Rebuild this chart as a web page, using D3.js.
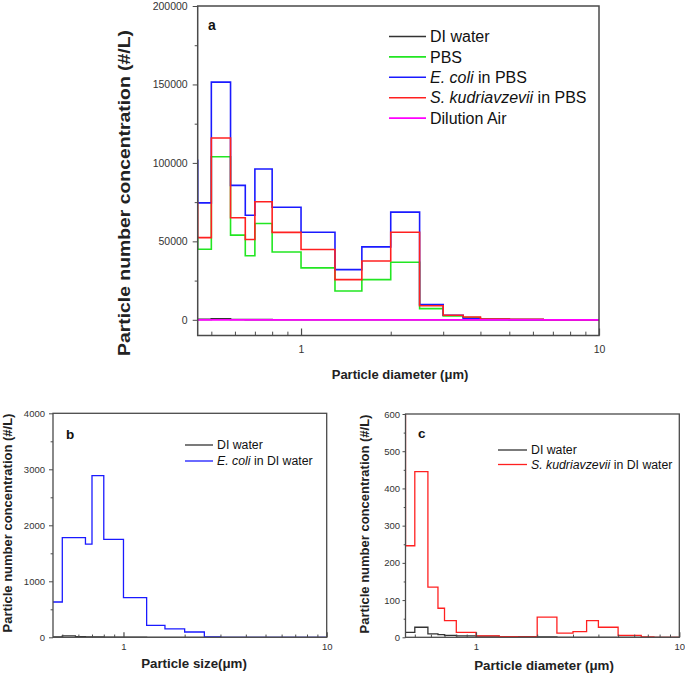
<!DOCTYPE html>
<html>
<head>
<meta charset="utf-8">
<script src="https://cdn.jsdelivr.net/npm/d3@7/dist/d3.min.js"></script>
<style>
  html, body { margin: 0; padding: 0; background: #fff; }
  svg { display: block; font-family: "Liberation Sans", Arial, sans-serif; }
</style>
</head>
<body>
<svg id="chart" width="685" height="674"></svg>
<script>
// ---- DATA ----
// Bin edges (µm) of the optical particle counter channels
const binEdges = [0.4, 0.45, 0.5, 0.58, 0.65, 0.7, 0.8, 1.0, 1.3, 1.6, 2.0, 2.5, 3.0, 3.5, 4.0, 5.0, 6.5, 7.5, 8.5, 10];

// Panel a (#/L)
const aDIWater   = [0, 300, 700, 200, 100, 100, 0, 0, 0, 0, 0, 0, 0, 0, 0, 0, 0, 0, 0];
const aPBS       = [52400, 45000, 103900, 54000, 40800, 61400, 43200, 33100, 18400, 25600, 36700, 7100, 2500, 1500, 500, 100, 0, 0, 0];
const aEcoliPBS  = [101700, 74500, 151500, 85700, 66600, 96100, 71700, 55800, 32000, 46500, 68600, 9700, 2900, 700, 300, 100, 0, 0, 0];
const aSkudPBS   = [74500, 52400, 115900, 65000, 51200, 75200, 55700, 44800, 25600, 37500, 55800, 9000, 2900, 1800, 500, 300, 0, 0, 0];
const aDilution  = [0, 0, 0, 0, 0, 0, 0, 0, 0, 0, 0, 0, 0, 0, 0, 0, 0, 0, 0];

// Panel b (#/L)
const bDIWater   = [0, 5, 25, 10, 8, 5, 3, 2, 0, 0, 0, 0, 0, 0, 0, 0, 0, 0, 0];
const bEcoliDI   = [630, 630, 1780, 1780, 1665, 2886, 1750, 707, 214, 150, 95, 5, 0, 0, 0, 0, 0, 0, 0];

// Panel c (#/L)
const cDIWater   = [13, 13, 27, 9, 7, 5, 4, 3, 1, 2, 1, 0, 0, 0, 0, 0, 0, 0, 0];
const cSkudDI    = [700, 246, 445, 135, 78, 45, 13, 4, 2, 1, 54, 11, 15, 45, 27, 5, 1, 0, 0];

// Axis ticks
const xMajorTicks = [1, 10];
const xMinorTicks = [0.5, 0.6, 0.7, 0.8, 0.9, 2, 3, 4, 5, 6, 7, 8, 9];
const aYTicks = [0, 50000, 100000, 150000, 200000];
const aYMinor = [25000, 75000, 125000, 175000];
const bYTicks = [0, 1000, 2000, 3000, 4000];
const bYMinor = [500, 1500, 2500, 3500];
const cYTicks = [0, 100, 200, 300, 400, 500, 600];
const cYMinor = [50, 150, 250, 350, 450, 550];

// ---- DRAW ----
const svg = d3.select("#chart");
const COL = { black: "#333333", green: "#22e622", blue: "#1a1aff", red: "#ff2020", magenta: "#ff00ff" };

function stepPoints(vals) {
  const pts = vals.map((v, i) => [binEdges[i], v]);
  pts.push([binEdges[binEdges.length - 1], vals[vals.length - 1]]);
  return pts;
}

function panel(cfg) {
  const x = d3.scaleLog().domain([0.45, 10]).range([cfg.x0, cfg.x1]);
  const y = d3.scaleLinear().domain(cfg.yDomain).range([cfg.y1, cfg.y0]);
  const g = svg.append("g");
  const clipId = "clip-" + cfg.id;
  svg.append("defs").append("clipPath").attr("id", clipId)
    .append("rect").attr("x", cfg.x0).attr("y", cfg.y0)
    .attr("width", cfg.x1 - cfg.x0).attr("height", cfg.y1 - cfg.y0);

  // series
  const line = d3.line().x(d => x(d[0])).y(d => y(d[1])).curve(d3.curveStepAfter);
  const sg = g.append("g").attr("clip-path", `url(#${clipId})`);
  cfg.series.forEach(s => {
    sg.append("path").attr("d", line(stepPoints(s.values)))
      .attr("fill", "none").attr("stroke", s.color).attr("stroke-width", s.w || cfg.lw);
  });

  // frame
  g.append("rect").attr("x", cfg.x0).attr("y", cfg.y0)
    .attr("width", cfg.x1 - cfg.x0).attr("height", cfg.y1 - cfg.y0)
    .attr("fill", "none").attr("stroke", "#4a4a4a").attr("stroke-width", cfg.fw);

  // y axis major
  const yAx = g.append("g").attr("transform", `translate(${cfg.x0},0)`)
    .call(d3.axisLeft(y).tickValues(cfg.yTicks).tickSize(cfg.yTick).tickPadding(cfg.yPad).tickFormat(d3.format("d")));
  yAx.select(".domain").remove();
  yAx.selectAll("line").attr("stroke", "#4a4a4a").attr("stroke-width", 1);
  yAx.selectAll("text").attr("font-size", cfg.tickFont).attr("fill", "#333");
  const yMin = g.append("g").attr("transform", `translate(${cfg.x0},0)`)
    .call(d3.axisLeft(y).tickValues(cfg.yMinor).tickSize(cfg.yTick * 0.6).tickFormat(""));
  yMin.select(".domain").remove();
  yMin.selectAll("line").attr("stroke", "#4a4a4a");

  // x axis (ticks point inward)
  const xAx = g.append("g").attr("transform", `translate(0,${cfg.y1})`)
    .call(d3.axisBottom(x).tickValues(xMajorTicks).tickSize(-cfg.xTick).tickPadding(cfg.xPad).tickFormat(d3.format("d")));
  xAx.select(".domain").remove();
  xAx.selectAll("line").attr("stroke", "#4a4a4a").attr("stroke-width", 1.2);
  xAx.selectAll("text").attr("font-size", cfg.tickFont).attr("fill", "#333");
  const xMin = g.append("g").attr("transform", `translate(0,${cfg.y1})`)
    .call(d3.axisBottom(x).tickValues(xMinorTicks).tickSize(-cfg.xTick * 0.55).tickFormat(""));
  xMin.select(".domain").remove();
  xMin.selectAll("line").attr("stroke", "#4a4a4a");

  // titles
  g.append("text").attr("x", cfg.xTitle[0]).attr("y", cfg.xTitle[1]).attr("text-anchor", "middle")
    .attr("font-weight", "bold").attr("font-size", cfg.titleFont).attr("fill", "#222").text(cfg.xLabel);
  const yt = g.append("text").attr("transform", `translate(${cfg.yTitle[0]},${cfg.yTitle[1]}) rotate(-90)`)
    .attr("text-anchor", "middle").attr("font-weight", "bold").attr("font-size", cfg.yTitleFont)
    .attr("fill", "#222").text("Particle number concentration (#/L)");
  if (cfg.yTitleLen) yt.attr("textLength", cfg.yTitleLen).attr("lengthAdjust", "spacingAndGlyphs");

  // panel letter
  g.append("text").attr("x", cfg.letterPos[0]).attr("y", cfg.letterPos[1])
    .attr("font-weight", "bold").attr("font-size", cfg.letterFont).attr("fill", "#111").text(cfg.letter);

  // legend
  cfg.legend.forEach((L, i) => {
    const yy = cfg.legPos[1] + i * cfg.legStep;
    g.append("line").attr("x1", cfg.legPos[0]).attr("x2", cfg.legPos[0] + cfg.legLen)
      .attr("y1", yy).attr("y2", yy).attr("stroke", L.color).attr("stroke-width", cfg.lw);
    const t = g.append("text").attr("x", cfg.legPos[0] + cfg.legLen + 4).attr("y", yy + cfg.legFont * 0.36)
      .attr("font-size", cfg.legFont).attr("fill", "#111");
    L.parts.forEach(p => t.append("tspan").attr("font-style", p[1] ? "italic" : "normal").text(p[0]));
  });
}

panel({
  id: "a", x0: 197.7, x1: 599, y0: 6, y1: 335.5, yDomain: [-10000, 200000],
  lw: 1.6, fw: 1.5, yTicks: aYTicks, yMinor: aYMinor, yTick: 5, yPad: 5, xTick: 7, xPad: 10,
  tickFont: 10.5, titleFont: 13, yTitleFont: 16.5, yTitleLen: 326,
  xLabel: "Particle diameter (\u03bcm)", xTitle: [400, 379], yTitle: [130, 193],
  letter: "a", letterPos: [208, 30], letterFont: 14,
  legPos: [389, 36.5], legStep: 20.4, legLen: 37, legFont: 16,
  series: [
    { values: aDIWater, color: COL.black },
    { values: aPBS, color: COL.green },
    { values: aEcoliPBS, color: COL.blue },
    { values: aSkudPBS, color: COL.red },
    { values: aDilution, color: COL.magenta, w: 1.8 }
  ],
  legend: [
    { color: COL.black, parts: [["DI water", false]] },
    { color: COL.green, parts: [["PBS", false]] },
    { color: COL.blue, parts: [["E. coli", true], [" in PBS", false]] },
    { color: COL.red, parts: [["S. kudriavzevii", true], [" in PBS", false]] },
    { color: COL.magenta, parts: [["Dilution Air", false]] }
  ]
});

panel({
  id: "b", x0: 53, x1: 326.7, y0: 413.3, y1: 637.3, yDomain: [0, 4000],
  lw: 1.3, fw: 1.3, yTicks: bYTicks, yMinor: bYMinor, yTick: 4, yPad: 4, xTick: 5, xPad: 6,
  tickFont: 9.5, titleFont: 13.3, yTitleFont: 13,
  xLabel: "Particle size(\u03bcm)", xTitle: [194, 668], yTitle: [12, 523],
  letter: "b", letterPos: [66, 439], letterFont: 13.5,
  legPos: [185, 445], legStep: 16, legLen: 28, legFont: 12.3,
  series: [
    { values: bDIWater, color: COL.black },
    { values: bEcoliDI, color: COL.blue }
  ],
  legend: [
    { color: COL.black, parts: [["DI water", false]] },
    { color: COL.blue, parts: [["E. coli", true], [" in DI water", false]] }
  ]
});

panel({
  id: "c", x0: 405.5, x1: 679.3, y0: 414, y1: 637.3, yDomain: [0, 600],
  lw: 1.3, fw: 1.3, yTicks: cYTicks, yMinor: cYMinor, yTick: 3, yPad: 2.5, xTick: 5, xPad: 6,
  tickFont: 9.5, titleFont: 13.3, yTitleFont: 13,
  xLabel: "Particle diameter (\u03bcm)", xTitle: [544, 670], yTitle: [369, 524],
  letter: "c", letterPos: [418, 438], letterFont: 13.5,
  legPos: [498, 450], legStep: 14.5, legLen: 29, legFont: 12.3,
  series: [
    { values: cDIWater, color: COL.black },
    { values: cSkudDI, color: COL.red }
  ],
  legend: [
    { color: COL.black, parts: [["DI water", false]] },
    { color: COL.red, parts: [["S. kudriavzevii", true], [" in DI water", false]] }
  ]
});
</script>
</body>
</html>
